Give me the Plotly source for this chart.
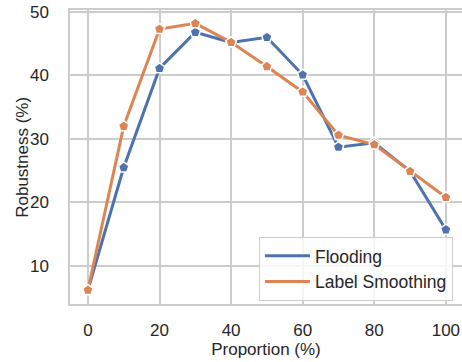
import plotly.graph_objects as go

proportion = [0, 10, 20, 30, 40, 50, 60, 70, 80, 90, 100]
flooding = [6.2, 25.5, 41.1, 46.8, 45.2, 46.0, 40.1, 28.7, 29.4, 24.9, 15.7]
label_smoothing = [6.2, 32.0, 47.3, 48.2, 45.2, 41.4, 37.4, 30.6, 29.1, 24.9, 20.8]
x_ticks = [0, 20, 40, 60, 80, 100]
y_ticks = [10, 20, 30, 40, 50]

BLUE = "#4C72B0"
ORANGE = "#DD8452"
GRID = "#cccccc"
FONT = "Liberation Sans, Arial, sans-serif"

fig = go.Figure()
for name, vals, col in [("Flooding", flooding, BLUE), ("Label Smoothing", label_smoothing, ORANGE)]:
    fig.add_trace(go.Scatter(
        x=proportion, y=vals, mode="lines+markers", name=name, showlegend=False,
        line=dict(color=col, width=3),
        marker=dict(symbol="pentagon", size=11, color=col, line=dict(color="white", width=1.5)),
    ))
for name, col in [("Flooding", BLUE), ("Label Smoothing", ORANGE)]:
    fig.add_trace(go.Scatter(x=[None], y=[None], mode="lines", name=name,
                             line=dict(color=col, width=3)))

fig.update_layout(
    width=462, height=362,
    margin=dict(l=70, r=0, t=10, b=58),
    paper_bgcolor="white", plot_bgcolor="white",
    font=dict(family=FONT, size=17, color="#262626"),
    legend=dict(
        x=0.482, y=0.228, xanchor="left", yanchor="top",
        bgcolor="rgba(255,255,255,0.8)", bordercolor=GRID, borderwidth=1,
        font=dict(size=17.5, color="#262626"),
        tracegroupgap=0, itemwidth=45,
    ),
    xaxis=dict(
        range=[-5, 104.5], tickmode="array", tickvals=x_ticks,
        showgrid=True, gridcolor=GRID, gridwidth=1.5,
        showline=True, linecolor=GRID, linewidth=1.5, mirror=True,
        zeroline=False, ticks="", ticklabelstandoff=10,
        title=dict(text="Proportion (%)", standoff=4, font=dict(size=17)),
    ),
    yaxis=dict(
        range=[4.0, 50.3], tickmode="array", tickvals=y_ticks,
        showgrid=True, gridcolor=GRID, gridwidth=1.5,
        showline=True, linecolor=GRID, linewidth=1.5,
        zeroline=False, ticks="", ticklabelstandoff=16,
    ),
    annotations=[dict(
        text="Robustness (%)", textangle=-90, showarrow=False,
        xref="paper", yref="paper", x=-0.123, y=0.5,
        xanchor="center", yanchor="middle", font=dict(size=17),
    )],
)

fig.write_html("out.html")
